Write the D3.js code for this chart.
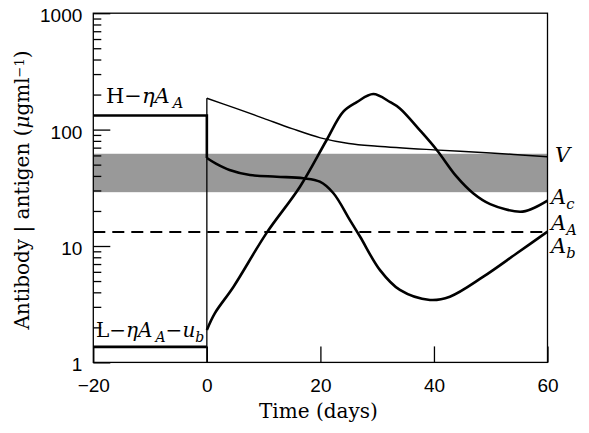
<!DOCTYPE html>
<html>
<head>
<meta charset="utf-8">
<script src="https://cdn.jsdelivr.net/npm/d3@7"></script>
<style>
  body { margin: 0; background: #fff; }
  svg { font-family: "DejaVu Serif", serif; }
  .axis text { font-size: 19px; fill: #000; }
  .axis line { stroke: #000; stroke-width: 1.3px; }
  .axis .domain { display: none; }
</style>
</head>
<body>
<div id="chart"></div>
<script>
// time points (days) and values (ug/ml)
var vDays  = [0, 5, 10, 15, 20, 25, 30, 40, 50, 60];
var vVals  = [186, 153, 125, 102, 85, 76, 72, 67, 63, 58.5];

var peakDays = [0, 1.4, 4.7, 10.5, 16.4, 21.1, 24, 26.4, 29.3, 32.3, 34, 37.5, 40.5, 44, 46.9, 49.9, 55.2, 57.5, 60];
var peakVals = [1.9, 2.64, 4.47, 12.9, 32.3, 81.4, 142, 172, 202, 172, 152, 99, 66.8, 39.4, 28.4, 22.9, 19.7, 21.1, 24.5];

var fallDays = [0, 1.6, 4, 7.6, 12.3, 17, 19.9, 22.3, 25.2, 27, 30.5, 34, 39.3, 42.8, 48.7, 54.6, 60];
var fallVals = [57, 51, 45, 40.7, 39.4, 38.2, 35.7, 28.4, 16.7, 12.0, 6.2, 4.19, 3.44, 3.67, 5.45, 8.66, 13.3];

var highLevel = 132;   // H - eta A before day 0
var lowLevel = 1.36;   // L - eta A - u_b before day 0
var bandRange = [29, 62];
var threshold = 13.2;  // dashed line

var xTicks = [-20, 0, 20, 40, 60];
var yTicks = [1, 10, 100, 1000];

var svg = d3.select("#chart").append("svg")
    .attr("width", 589)
    .attr("height", 433);

var margin = {top: 13.2, right: 41.5, bottom: 70.6, left: 93.3},
    width = 589 - margin.left - margin.right,
    height = 433 - margin.top - margin.bottom;

var x = d3.scaleLinear().domain([-20, 60]).range([0, width]),
    y = d3.scaleLog().domain([1, 1000]).range([height, 0]);

var g = svg.append("g")
    .attr("transform", "translate(" + margin.left + "," + margin.top + ")");

// grey band
g.append("rect")
    .attr("x", x(-20))
    .attr("width", x(60) - x(-20))
    .attr("y", y(bandRange[1]))
    .attr("height", y(bandRange[0]) - y(bandRange[1]))
    .attr("fill", "#999999");

// minor ticks on the y axis (2..9 of each decade)
var minor = [];
yTicks.slice(0, 3).forEach(function(d) {
    for (var k = 2; k < 10; k++) minor.push(d * k);
});
g.append("g")
    .attr("class", "axis")
    .call(d3.axisLeft(y).tickValues(minor).tickSize(-8).tickFormat(""));

g.append("g")
    .attr("class", "axis axis--y")
    .call(d3.axisLeft(y).tickValues(yTicks).tickSize(-17).tickPadding(11).tickFormat(d3.format("d")))
  .selectAll("text")
    .attr("dy", "0.45em");

g.append("g")
    .attr("class", "axis axis--x")
    .attr("transform", "translate(0," + height + ")")
    .call(d3.axisBottom(x).tickValues(xTicks).tickSize(-16).tickPadding(16));

// frame
g.append("rect")
    .attr("width", width)
    .attr("height", height)
    .attr("fill", "none")
    .attr("stroke", "#000")
    .attr("stroke-width", 1.3);

// dashed threshold
g.append("line")
    .attr("x1", x(-20)).attr("x2", x(60))
    .attr("y1", y(threshold)).attr("y2", y(threshold))
    .attr("stroke", "#000")
    .attr("stroke-width", 2)
    .attr("stroke-dasharray", "12,7");

var lin = d3.line().x(function(d) { return x(d[0]); }).y(function(d) { return y(d[1]); });
var smooth = d3.line().curve(d3.curveCatmullRom.alpha(0.5))
    .x(function(d) { return x(d[0]); }).y(function(d) { return y(d[1]); });

function pairs(ds, vs) { return ds.map(function(d, i) { return [d, vs[i]]; }); }

// thin vertical at day 0, up to V start
g.append("path")
    .attr("d", lin([[0, 1], [0, vVals[0]]]))
    .attr("fill", "none").attr("stroke", "#000").attr("stroke-width", 1.3);

// V (thin)
g.append("path")
    .attr("d", smooth(pairs(vDays, vVals)))
    .attr("fill", "none").attr("stroke", "#000").attr("stroke-width", 1.4);

// high level, dropping at day 0
g.append("path")
    .attr("d", lin([[-20, highLevel], [0, highLevel], [0, fallVals[0]]]))
    .attr("fill", "none").attr("stroke", "#000").attr("stroke-width", 2.6);

// low level
g.append("path")
    .attr("d", lin([[-20, lowLevel], [0, lowLevel]]))
    .attr("fill", "none").attr("stroke", "#000").attr("stroke-width", 2.6);

g.append("path")
    .attr("d", smooth(pairs(fallDays, fallVals)))
    .attr("fill", "none").attr("stroke", "#000").attr("stroke-width", 2.6);

g.append("path")
    .attr("d", smooth(pairs(peakDays, peakVals)))
    .attr("fill", "none").attr("stroke", "#000").attr("stroke-width", 2.6);

// labels
function mathLabel(px, py, parts, size) {
    var t = svg.append("text")
        .attr("x", px).attr("y", py)
        .style("font-size", size + "px");
    parts.forEach(function(p) {
        var s = t.append("tspan").text(p.t);
        if (p.i) s.style("font-style", "italic");
        if (p.dx) s.attr("dx", p.dx);
        if (p.sub) s.attr("baseline-shift", "-35%").style("font-size", (size * 0.7) + "px");
    });
    return t;
}

mathLabel(106, 103, [{t: "H\u2212"}, {t: "\u03b7A", i: true}, {t: "A", i: true, sub: true, dx: 3}], 21);
mathLabel(96, 337, [{t: "L\u2212"}, {t: "\u03b7A", i: true}, {t: "A", i: true, sub: true, dx: 3}, {t: "\u2212"}, {t: "u", i: true}, {t: "b", i: true, sub: true}], 20);

mathLabel(555, 162, [{t: "V", i: true}], 21);
mathLabel(551, 204, [{t: "A", i: true}, {t: "c", i: true, sub: true}], 21);
mathLabel(551, 230, [{t: "A", i: true}, {t: "A", i: true, sub: true}], 21);
mathLabel(551, 253, [{t: "A", i: true}, {t: "b", i: true, sub: true}], 21);

svg.append("text")
    .attr("x", margin.left + width / 2 - 2)
    .attr("y", 418)
    .attr("text-anchor", "middle")
    .style("font-size", "20px")
    .text("Time (days)");

var yt = svg.append("text")
    .attr("transform", "translate(29," + 190 + ") rotate(-90)")
    .attr("text-anchor", "middle")
    .style("font-size", "20px");
yt.append("tspan").text("Antibody | antigen (");
yt.append("tspan").style("font-style", "italic").text("\u03bc");
yt.append("tspan").text("gml");
yt.append("tspan").attr("baseline-shift", "40%").style("font-size", "13px").text("\u22121");
yt.append("tspan").text(")");
</script>
</body>
</html>
